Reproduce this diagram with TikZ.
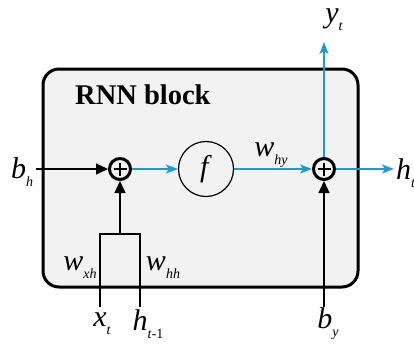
\documentclass[tikz,border=0pt]{standalone}
\usepackage{fontspec}
\setmainfont{Liberation Serif}
\usetikzlibrary{arrows.meta,calc}
\definecolor{arrblue}{RGB}{25,155,215}
\definecolor{boxgray}{RGB}{242,242,242}
\newcommand\lab[2]{\fontsize{30}{30}\selectfont\textit{#1}\raisebox{-8pt}{\fontsize{14}{14}\selectfont #2}}
\begin{document}
\begin{tikzpicture}[x=1pt,y=-1pt,
  blk/.style={line width=1.3pt,-{Triangle[length=12pt,width=11pt]}},
  blu/.style={line width=1.5pt,arrblue,-{Stealth[length=12pt,width=9pt,inset=3pt]}},
  thin/.style={line width=1.3pt},
  plusnode/.style={circle,draw,line width=3pt,minimum size=21pt,inner sep=0pt},
  lbl/.style={inner sep=0pt}]
\useasboundingbox (0,0) rectangle (414,343);
\node[draw,line width=3pt,fill=boxgray,rounded corners=16pt,minimum width=315pt,minimum height=218pt,inner sep=0pt] (box) at (200.5,178) {};
\node[lbl,anchor=west,font=\fontsize{28.5}{28.5}\selectfont\bfseries] (title) at (75,95) {RNN block};
\node[plusnode] (p1) at (120,169) {};
\draw[line width=1.8pt] ($(p1)+(-6.5,0)$) -- ($(p1)+(6.5,0)$) ($(p1)+(0,-6.5)$) -- ($(p1)+(0,6.5)$);
\node[circle,draw,line width=1.2pt,minimum size=55pt,inner sep=0pt] (f) at (206,169) {\fontsize{30}{30}\selectfont\textit{f}};
\node[plusnode] (p2) at (324,169) {};
\draw[line width=1.8pt] ($(p2)+(-6.5,0)$) -- ($(p2)+(6.5,0)$) ($(p2)+(0,-6.5)$) -- ($(p2)+(0,6.5)$);
% labels
\node[lbl] (bh) at (22,172) {\lab{b}{\textit{h}}};
\node[lbl] (yt) at (334,20) {\lab{y}{\textit{t}}};
\node[lbl,anchor=west] (ht) at (396,173) {\lab{h}{\textit{t}}};
\node[lbl] (why) at (271,155) {\lab{w}{\textit{hy}}};
\node[lbl] (wxh) at (80,268) {\lab{w}{\textit{xh}}};
\node[lbl] (whh) at (163,268) {\lab{w}{\textit{hh}}};
\node[lbl] (xt) at (102,324) {\lab{x}{\textit{t}}};
\node[lbl] (htm) at (148,324) {\lab{h}{\textit{t}-1}};
\node[lbl] (by) at (328,324) {\lab{b}{\textit{y}}};
% coordinates
\coordinate (bhs) at (36,169);
\coordinate (xs) at (100,307);
\coordinate (hs) at (140,307);
\coordinate (rl) at (100,234);
\coordinate (rr) at (140,234);
\coordinate (rm) at (120,234);
\coordinate (bys) at (324,307);
\coordinate (yte) at (324,42);
\coordinate (hte) at (394,169);
% connectors
\draw[blk] (bhs) -- (p1.west);
\draw[thin] (xs) -- (rl) -- (rr) -- (hs);
\draw[blk] (rm) -- (p1.south);
\draw[blk] (bys) -- (p2.south);
\draw[blu] (p1.east) -- (f.west);
\draw[blu] (f.east) -- (p2.west);
\draw[blu] (p2.north) -- (yte);
\draw[blu] (p2.east) -- (hte);
\end{tikzpicture}
\end{document}
